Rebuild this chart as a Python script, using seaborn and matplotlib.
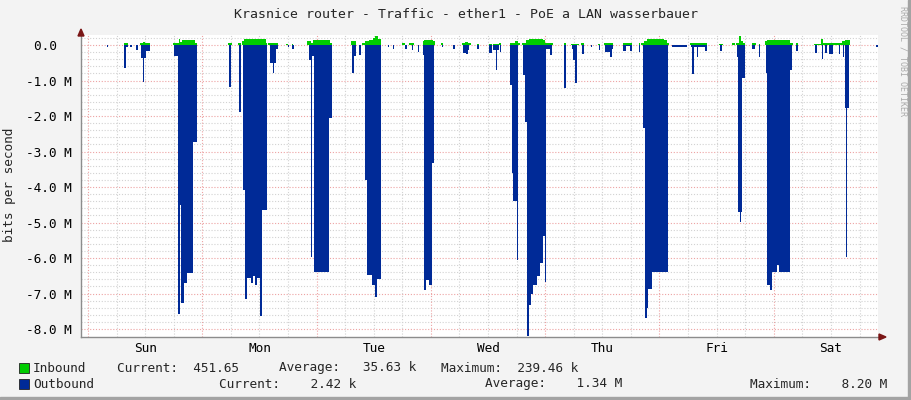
import numpy as np
import pandas as pd
import seaborn as sns
import matplotlib.pyplot as plt
from matplotlib.patches import Rectangle, Polygon

# hours since Sunday 00:00; each value holds until the next point (Mbit/s)
out_hours = [3.9, 4.3, 7.5, 7.9, 8.3, 8.8, 9.2, 10.0, 10.4, 11.1, 11.5, 11.8, 12.2, 13.0,
             18.0, 18.8, 19.4, 19.6, 20.1, 20.7, 22.1, 22.8,
             29.6, 30.0, 31.7, 32.1, 32.6, 33.0, 33.4, 34.2, 34.6, 35.0, 35.4, 36.2, 36.5, 37.5,
             38.2, 38.8, 39.1, 39.5, 39.9, 42.0, 42.3, 42.9, 43.2,
             46.3, 46.8, 47.1, 47.4, 50.7, 51.2,
             55.4, 55.8, 56.3, 57.0, 57.4, 58.2, 58.6, 59.6, 60.3, 60.6, 61.45,
             63.0, 63.3, 64.0, 64.3, 66.6, 66.9, 68.0, 68.3, 69.2, 69.5,
             70.4, 70.55, 71.0, 71.6, 72.15, 72.7,
             74.3, 74.6, 76.7, 77.0, 78.8, 79.3, 79.7, 80.0, 81.6, 82.0,
             84.1, 84.8, 85.1, 85.6, 85.9, 86.2, 86.5, 86.8,
             88.6, 89.0, 89.3, 90.0, 90.35,
             91.3, 91.8, 92.25, 92.6, 92.95, 93.5, 94.2, 94.9, 95.5, 96.0, 96.2, 97.0, 97.5,
             100.0, 100.4, 101.6, 101.9, 102.3, 102.7, 103.8, 104.2, 105.6, 105.9, 107.3, 107.6,
             108.6, 109.7, 110.0, 110.3, 112.4, 113.0, 113.8, 114.2, 115.6, 115.9,
             116.5, 116.9, 117.3, 117.6, 118.5, 121.85,
             122.6, 125.7, 126.7, 126.9, 127.2, 127.8, 128.1, 129.5, 129.9, 132.8, 133.2,
             136.2, 136.5, 136.9, 137.2, 137.4, 138.0, 139.4, 140.1, 140.9, 141.2,
             142.3, 142.6, 143.3, 143.7, 144.7, 145.1, 147.4, 147.9,
             148.7, 149.0, 152.7, 153.0, 154.1, 154.4, 154.8, 155.1, 155.6, 156.4, 157.6, 157.9,
             158.5, 158.8, 159.0, 159.25, 159.45, 159.8, 165.5, 165.9]
out_mbit = [-0.05, 0, -0.64, -0.05, 0, -0.05, 0, -0.15, 0, -0.37, -1.03, -0.37, -0.17, 0,
            -0.3, -7.58, -4.5, -7.27, -6.7, -6.41, -2.72, 0,
            -1.17, 0, -1.9, 0, -4.08, -7.16, -6.56, -6.7, -6.5, -6.76, -6.56, -7.62, -4.65, 0,
            -0.5, -0.8, -0.5, -0.1, 0, -0.05, 0, -0.12, 0,
            -0.42, -5.96, -0.3, -6.4, -2.05, 0,
            -0.8, -0.3, 0, -0.28, 0, -3.8, -6.48, -6.76, -7.09, -6.6, 0,
            -0.05, 0, -0.1, 0, -0.1, 0, -0.15, 0, -0.2, 0,
            -0.28, -6.9, -6.62, -6.76, -3.31, 0,
            -0.05, 0, -0.1, 0, -0.22, -0.25, -0.15, 0, -0.12, 0,
            -0.22, 0, -0.15, -0.69, -0.15, 0, -0.2, 0,
            -1.13, -3.6, -4.4, -6.06, 0,
            -0.85, -2.16, -8.2, -7.32, -7.0, -6.76, -6.5, -6.15, -5.38, -6.67, -0.1, -0.28, 0,
            -1.22, 0, -0.1, -0.42, -1.06, 0, -0.24, 0, -0.07, 0, -0.15, 0,
            -0.19, -0.33, -0.1, 0, -0.16, -0.03, -0.16, 0, -0.2, 0,
            -2.35, -7.7, -7.42, -6.88, -6.4, 0,
            -0.05, 0, -0.05, -0.83, -0.05, -0.35, -0.05, -0.16, 0, -0.16, 0,
            -0.33, -4.7, -4.98, -4.7, -0.92, 0, -0.1, 0, -0.33, 0,
            -0.78, -6.76, -6.9, -6.4, -6.2, -6.4, -0.7, 0,
            -0.16, 0, -0.22, 0, -0.4, 0, -0.22, 0, -0.25, 0, -0.25, 0,
            -0.33, 0, -1.78, -5.96, -1.78, 0, -0.05, 0]

in_hours = [7.5, 8.5, 11.0, 11.5, 12.0, 13.0, 17.9, 19.1, 19.4, 19.8, 22.5, 22.9,
            29.3, 30.2, 31.6, 32.2, 32.4, 32.8, 34.5, 35.0, 36.5, 37.3, 37.6, 37.8, 39.9,
            41.6, 42.0, 42.8, 43.1, 46.0, 46.8, 47.2, 50.9, 51.3,
            55.2, 56.2, 57.6, 58.2, 59.0, 59.8, 60.3, 60.8, 61.5,
            66.0, 66.5, 67.3, 68.5, 70.3, 70.6, 72.4, 72.8, 74.2, 74.6,
            78.6, 79.2, 79.8, 80.4, 81.6, 82.0, 84.1, 84.8, 85.0, 86.2, 86.4, 86.8,
            88.6, 89.7, 90.3, 90.7, 91.1, 92.0, 92.6, 95.5, 96.0, 97.6,
            99.9, 100.3, 101.5, 103.0, 103.6, 104.1, 107.0, 107.5, 108.3, 110.3,
            112.4, 114.2, 115.6, 115.9, 116.2, 116.7, 117.3, 121.0, 121.6, 122.0,
            126.5, 127.5, 128.5, 129.9, 132.5, 133.4, 135.3, 135.8,
            136.1, 136.6, 137.2, 137.5, 138.0, 139.4, 140.2, 140.8, 141.2,
            142.2, 142.6, 146.6, 147.5, 148.0, 148.7, 149.0,
            152.5, 153.9, 154.4, 157.5, 158.4, 158.9, 159.9]
in_mbit = [0.05, 0, 0.05, 0.08, 0.05, 0, 0.05, 0.16, 0.08, 0.14, 0.05, 0,
           0.07, 0, 0.07, 0, 0.1, 0.18, 0.16, 0.18, 0.16, 0.07, 0, 0.05, 0,
           0.03, 0, 0.03, 0, 0.1, 0.05, 0.14, 0.07, 0,
           0.12, 0, 0.05, 0.12, 0.15, 0.2, 0.24, 0.16, 0,
           0.05, 0, 0.05, 0, 0.1, 0.15, 0.1, 0, 0.05, 0,
           0.05, 0.08, 0.05, 0, 0.03, 0, 0.03, 0, 0.04, 0, 0.05, 0,
           0.05, 0.12, 0.05, 0, 0.07, 0.15, 0.18, 0.14, 0.07, 0,
           0.05, 0, 0.03, 0, 0.07, 0, 0.04, 0, 0.06, 0,
           0.05, 0, 0.05, 0, 0.07, 0.12, 0.17, 0.14, 0.05, 0,
           0.05, 0.07, 0.05, 0, 0.04, 0, 0.05, 0,
           0.07, 0.25, 0.12, 0.05, 0, 0.05, 0, 0.03, 0,
           0.12, 0.15, 0.14, 0.05, 0, 0.05, 0,
           0.04, 0.16, 0.07, 0.06, 0.12, 0.15, 0]

days = ["Sun", "Mon", "Tue", "Wed", "Thu", "Fri", "Sat"]
y_ticks = [-8, -7, -6, -5, -4, -3, -2, -1, 0]
y_labels = ["-8.0 M", "-7.0 M", "-6.0 M", "-5.0 M", "-4.0 M", "-3.0 M", "-2.0 M", "-1.0 M", "0.0  "]

legend_rows = [
    ("Inbound", "#00CC00", [(117, "Current:  451.65"), (279, "Average:   35.63 k"), (441, "Maximum:  239.46 k")]),
    ("Outbound", "#002A97", [(219, "Current:    2.42 k"), (485, "Average:    1.34 M"), (750, "Maximum:    8.20 M")]),
]

W, H = 911, 400


def fx(x):
    return x / W


def fy(y):
    return 1 - y / H


sns.set_theme(style="white")
plt.rcParams['font.family'] = ['DejaVu Sans Mono']
fs = 9.2

df_out = pd.DataFrame({"hour": out_hours, "mbit": out_mbit})
df_in = pd.DataFrame({"hour": in_hours, "mbit": in_mbit})

fig = plt.figure(figsize=(W / 100, H / 100), dpi=100, facecolor="#F3F3F3")
ax = fig.add_axes([fx(81), fy(337), fx(878) - fx(81), fy(35) - fy(337)])
ax.set_facecolor("white")

x0, x1 = -1.47, 165.88
y0, y1 = -8.225, 0.282
ax.set_xlim(x0, x1)
ax.set_ylim(y0, y1)

# grid
for v in np.arange(-8.0, 0.3, 0.2):
    major = abs(v - round(v)) < 1e-6
    ax.axhline(v, color="#EDA3A3" if major else "#D2D2D2", lw=0.8,
               ls=(0, (1, 1.6)), zorder=1)
for h in range(0, 166, 6):
    ax.axvline(h, color="#EDA3A3" if h % 24 == 0 else "#D2D2D2", lw=0.8,
               ls=(0, (1, 1.6)), zorder=1)

ax.fill_between(df_in["hour"], df_in["mbit"], 0, step="post", color="#00CC00", lw=0, zorder=3)
ax.fill_between(df_out["hour"], df_out["mbit"], 0, step="post", color="#002A97", lw=0, zorder=3)

ax.set_yticks(y_ticks)
ax.set_yticklabels(y_labels)
ax.set_xticks([12 + 24 * i for i in range(7)])
ax.set_xticklabels(days)
ax.tick_params(axis="y", length=3, pad=3.5, labelsize=fs, labelcolor="black", color="#EDA3A3")
ax.tick_params(axis="x", length=0, pad=3.5, labelsize=fs, labelcolor="black")

sns.despine(ax=ax)
for s in ("left", "bottom"):
    ax.spines[s].set_color("#8C8C8C")
    ax.spines[s].set_linewidth(1.0)

# axis arrows
fig.add_artist(Polygon([(fx(78), fy(36)), (fx(84), fy(36)), (fx(81), fy(29))],
                       closed=True, color="#7A1515", transform=fig.transFigure))
fig.add_artist(Polygon([(fx(879), fy(334)), (fx(879), fy(340)), (fx(886), fy(337))],
                       closed=True, color="#7A1515", transform=fig.transFigure))

fig.text(fx(466), fy(15), "Krasnice router - Traffic - ether1 - PoE a LAN wasserbauer",
         ha="center", va="center", fontsize=fs + 0.3)
fig.text(fx(10), fy(185), "bits per second", rotation=90, ha="center", va="center", fontsize=fs)
fig.text(fx(903), fy(6), "RRDTOOL / TOBI OETIKER", rotation=270, ha="center", va="top",
         fontsize=6, color="#AAAAAA")

for i, (name, col, parts) in enumerate(legend_rows):
    yc = 368 + 16 * i
    fig.add_artist(Rectangle((fx(19), fy(yc + 5)), fx(10), 10 / H, facecolor=col,
                             edgecolor="#222222", lw=0.6, transform=fig.transFigure))
    fig.text(fx(33), fy(yc), name, ha="left", va="center", fontsize=fs)
    for px, txt in parts:
        fig.text(fx(px), fy(yc), txt, ha="left", va="center", fontsize=fs)

# border shading
fig.add_artist(Rectangle((fx(W - 3), 0), fx(3), 1, color="#A3A3A3", transform=fig.transFigure))
fig.add_artist(Rectangle((0, 0), 1, 3 / H, color="#A3A3A3", transform=fig.transFigure))

fig.savefig("out.png", dpi=100, facecolor=fig.get_facecolor())
